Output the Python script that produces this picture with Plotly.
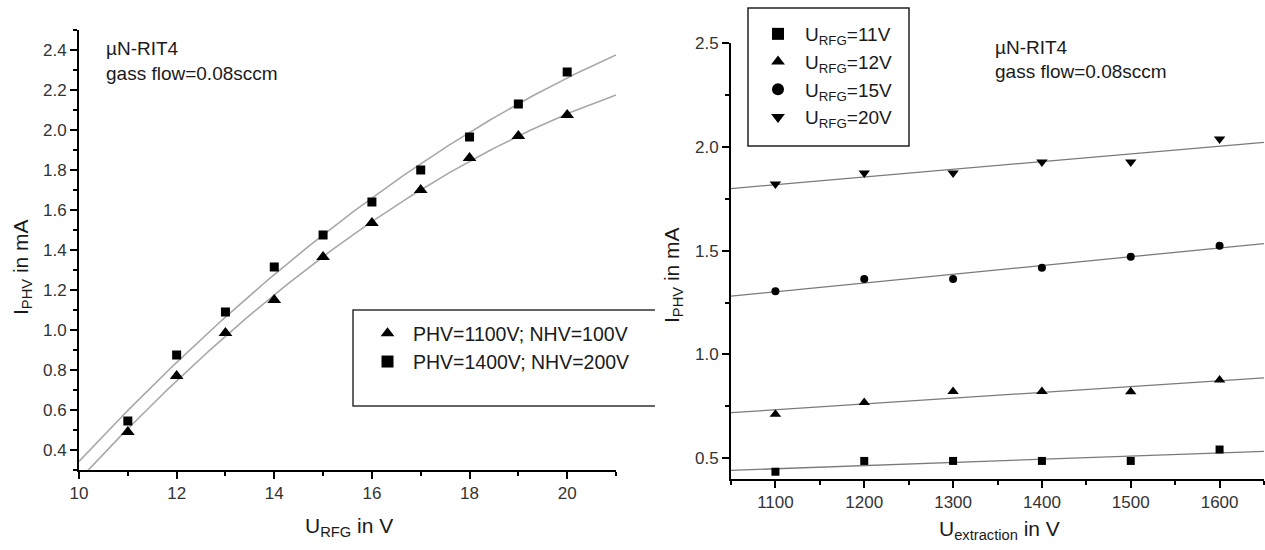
import numpy as np
import plotly.graph_objects as go

# ---------------- data ----------------
# Left panel: I_PHV vs U_RFG
u_rfg = [11, 12, 13, 14, 15, 16, 17, 18, 19, 20]
i_phv_1100 = [0.49, 0.77, 0.985, 1.15, 1.365, 1.535, 1.70, 1.86, 1.97, 2.075]
i_phv_1400 = [0.545, 0.875, 1.09, 1.315, 1.475, 1.64, 1.80, 1.965, 2.13, 2.29]
left_names = ["PHV=1100V; NHV=100V", "PHV=1400V; NHV=200V"]

# Right panel: I_PHV vs U_extraction
u_ext = [1100, 1200, 1300, 1400, 1500, 1600]
i_11v = [0.435, 0.487, 0.487, 0.487, 0.487, 0.542]
i_12v = [0.712, 0.768, 0.822, 0.821, 0.820, 0.877]
i_15v = [1.304, 1.363, 1.363, 1.418, 1.471, 1.524]
i_20v = [1.821, 1.874, 1.874, 1.927, 1.927, 2.038]
right_names = ["U<sub>RFG</sub>=11V", "U<sub>RFG</sub>=12V",
               "U<sub>RFG</sub>=15V", "U<sub>RFG</sub>=20V"]

left_xtick = [10, 12, 14, 16, 18, 20]
left_ytick = [0.4, 0.6, 0.8, 1.0, 1.2, 1.4, 1.6, 1.8, 2.0, 2.2, 2.4]
right_xtick = [1100, 1200, 1300, 1400, 1500, 1600]
right_ytick = [0.5, 1.0, 1.5, 2.0, 2.5]

W, H = 1265, 550
FONT = "Liberation Sans, Arial, sans-serif"
TXT = "#1a1a1a"

def px(x):
    return x / W

def py(y):
    return 1 - y / H

fig = go.Figure()

# ---- left panel fits (quadratic regression of the data) ----
xf_left = np.linspace(10, 21, 120)
for ys in (i_phv_1100, i_phv_1400):
    c = np.polyfit(u_rfg, ys, 2)
    fig.add_trace(go.Scatter(x=xf_left, y=np.polyval(c, xf_left), mode="lines",
                             line=dict(color="#a8a8a8", width=1.6),
                             showlegend=False, hoverinfo="skip",
                             xaxis="x", yaxis="y"))

fig.add_trace(go.Scatter(x=u_rfg, y=i_phv_1100, mode="markers", name=left_names[0],
                         marker=dict(symbol="triangle-up", size=12, color="black"),
                         xaxis="x", yaxis="y", legend="legend"))
fig.add_trace(go.Scatter(x=u_rfg, y=i_phv_1400, mode="markers", name=left_names[1],
                         marker=dict(symbol="square", size=9, color="black"),
                         xaxis="x", yaxis="y", legend="legend"))

# ---- right panel fits (linear regression of the data) ----
xf_right = np.array([1050, 1650])
symbols = ["square", "triangle-up", "circle", "triangle-down"]
sizes = [8, 10, 8, 10]
for ys in (i_11v, i_12v, i_15v, i_20v):
    c = np.polyfit(u_ext, ys, 1)
    fig.add_trace(go.Scatter(x=xf_right, y=np.polyval(c, xf_right), mode="lines",
                             line=dict(color="#7a7a7a", width=1.3),
                             showlegend=False, hoverinfo="skip",
                             xaxis="x2", yaxis="y2"))
for ys, nm, sym, sz in zip((i_11v, i_12v, i_15v, i_20v), right_names, symbols, sizes):
    fig.add_trace(go.Scatter(x=u_ext, y=ys, mode="markers", name=nm,
                             marker=dict(symbol=sym, size=sz, color="black"),
                             xaxis="x2", yaxis="y2", legend="legend2"))

axis_common = dict(showline=True, linecolor="black", linewidth=2, ticks="outside",
                   ticklen=7, tickwidth=1.5, tickcolor="black", showgrid=False,
                   zeroline=False, mirror=False, automargin=False,
                   tickfont=dict(family=FONT, size=17, color="#333"))

fig.update_layout(
    width=W, height=H, autosize=False,
    margin=dict(l=0, r=0, t=0, b=0, autoexpand=False),
    paper_bgcolor="white", plot_bgcolor="white",
    font=dict(family=FONT, color=TXT),
    xaxis=dict(domain=[px(79), px(616)], range=[10, 21], tickvals=left_xtick,
               minor=dict(ticks="outside", ticklen=4, tickcolor="black", dtick=1, tick0=10),
               anchor="y", **axis_common),
    yaxis=dict(domain=[py(470), py(30)], range=[0.3, 2.5], tickvals=left_ytick,
               tickformat=".1f",
               minor=dict(ticks="outside", ticklen=4, tickcolor="black", dtick=0.1, tick0=0.3),
               anchor="x", **axis_common),
    xaxis2=dict(domain=[px(731), px(1264)], range=[1050, 1650], tickvals=right_xtick,
                minor=dict(ticks="outside", ticklen=4, tickcolor="black", dtick=50, tick0=1050),
                anchor="y2", **axis_common),
    yaxis2=dict(domain=[py(479), py(43)], range=[0.4, 2.5], tickvals=right_ytick,
                tickformat=".1f",
                minor=dict(ticks="outside", ticklen=4, tickcolor="black", dtick=0.25, tick0=0.25),
                anchor="x2", **axis_common),
    legend=dict(x=px(362), y=py(314), xanchor="left", yanchor="top",
                bgcolor="rgba(0,0,0,0)", borderwidth=0, itemwidth=41,
                font=dict(family=FONT, size=19.5, color=TXT), tracegroupgap=0,
                itemsizing="constant"),
    legend2=dict(x=px(751), y=py(15), xanchor="left", yanchor="top",
                 bgcolor="rgba(0,0,0,0)", borderwidth=0, itemwidth=44,
                 font=dict(family=FONT, size=19, color=TXT), tracegroupgap=0,
                 itemsizing="constant"),
    showlegend=True,
)

# open-right legend frame on the left panel
fig.add_shape(type="path", xref="paper", yref="paper",
              path=f"M {px(655)} {py(310)} L {px(353)} {py(310)} L {px(353)} {py(406)} L {px(655)} {py(406)}",
              line=dict(color="#333", width=1.5))
# legend frame on the right panel
fig.add_shape(type="rect", xref="paper", yref="paper",
              x0=px(748), x1=px(909), y0=py(146), y1=py(8),
              line=dict(color="#222", width=1.5))

annos = [
    dict(x=px(104), y=py(48), text="µN-RIT4"),
    dict(x=px(104), y=py(74), text="gass flow=0.08sccm"),
    dict(x=px(993), y=py(47), text="µN-RIT4"),
    dict(x=px(993), y=py(72), text="gass flow=0.08sccm"),
]
for a in annos:
    fig.add_annotation(x=a["x"], y=a["y"], xref="paper", yref="paper", text=a["text"],
                       showarrow=False, xanchor="left", yanchor="middle",
                       font=dict(family=FONT, size=19, color=TXT))

titles = [
    dict(x=px(22), y=py(267), text="I<sub>PHV</sub> in mA", angle=-90),
    dict(x=px(673), y=py(275), text="I<sub>PHV</sub> in mA", angle=-90),
    dict(x=px(349), y=py(527), text="U<sub>RFG</sub> in V", angle=0),
    dict(x=px(999), y=py(530), text="U<sub>extraction</sub> in V", angle=0),
]
for t in titles:
    fig.add_annotation(x=t["x"], y=t["y"], xref="paper", yref="paper", text=t["text"],
                       showarrow=False, xanchor="center", yanchor="middle",
                       textangle=t["angle"], font=dict(family=FONT, size=21, color=TXT))

fig.write_html("out.html", config={"displayModeBar": False},
               post_script="document.body.style.margin='0';document.body.style.padding='0';")
